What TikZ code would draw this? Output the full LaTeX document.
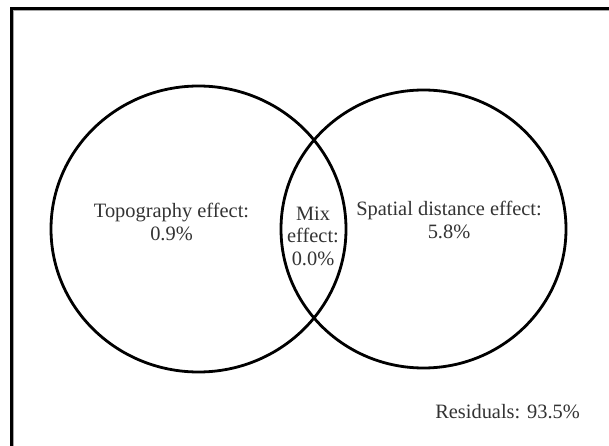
\documentclass[tikz,border=0pt]{standalone}
\usepackage{fontspec}
\setmainfont{Liberation Serif}
\begin{document}
\begin{tikzpicture}[x=1pt,y=-1pt,
  lab/.style={font=\fontsize{20.4}{22.5}\selectfont, align=center, inner sep=0pt, text=black!80},
  ring/.style={draw=black, line width=2.8pt}]
\useasboundingbox (0,0) rectangle (609,446);
\fill[white] (0,0) rectangle (609,446);
% frame (top and left edges only)
\draw[line width=3pt] (11.5,446) -- (11.5,8.5) -- (609,8.5);
\draw[black!35, line width=1pt] (13.5,446) -- (13.5,10.5) -- (609,10.5);
% circles
\draw[ring] (198.5,229) ellipse [x radius=147.5pt, y radius=143pt];
\draw[ring] (423.5,229) ellipse [x radius=142.5pt, y radius=139pt];
% labels
\node[lab] (topo) at (171.5,222) {Topography effect:\\0.9\%};
\node[lab] (mix) at (313,236) {Mix\\effect:\\0.0\%};
\node[lab] (spat) at (449,220) {Spatial distance effect:\\5.8\%};
\node[lab, anchor=east] (resid) at (580,412) {Residuals: 93.5\%};
\end{tikzpicture}
\end{document}
